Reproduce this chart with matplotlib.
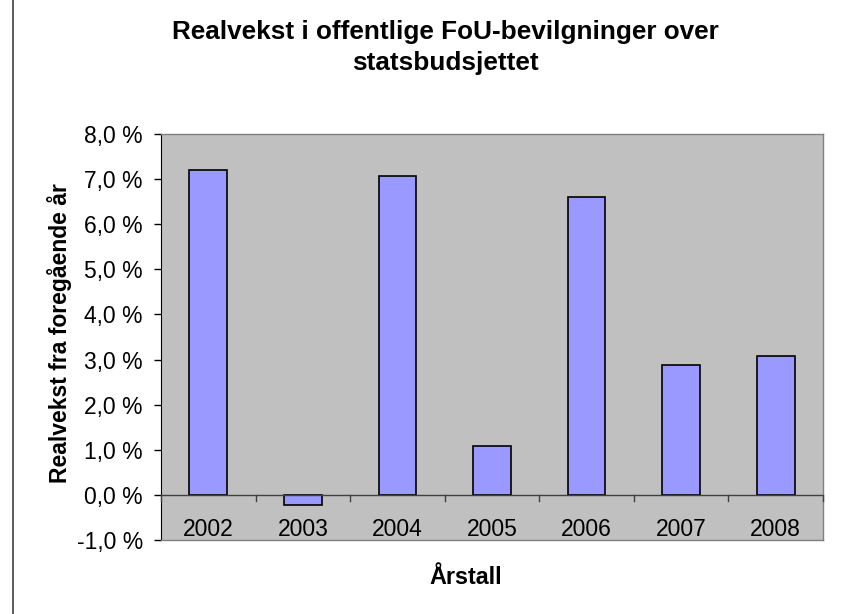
import numpy as np
import matplotlib.pyplot as plt
from matplotlib.ticker import FuncFormatter
from matplotlib.lines import Line2D

# Data
years = ['2002', '2003', '2004', '2005', '2006', '2007', '2008']
growth = [7.2, -0.23, 7.08, 1.08, 6.6, 2.87, 3.08]

plt.rcParams['font.family'] = ['Liberation Sans', 'DejaVu Sans']

W, H = 852, 614
fig = plt.figure(figsize=(W / 100, H / 100), dpi=100)
ax = fig.add_axes([161 / W, 1 - 540 / H, (823 - 161) / W, (540 - 134) / H])
ax.set_facecolor('#C0C0C0')

x = np.arange(len(years))
ax.bar(x, growth, width=0.4, color='#9999FF', edgecolor='black', linewidth=1.2, zorder=3)

ax.set_xlim(-0.5, len(years) - 0.5)
ax.set_ylim(-1, 8)
ax.set_yticks(np.arange(-1, 8.1, 1))
ax.yaxis.set_major_formatter(FuncFormatter(lambda v, p: f'{v:.1f} %'.replace('.', ',')))
ax.tick_params(axis='y', labelsize=16.5, length=5, width=1, color='black', pad=8)

# category axis at zero
ax.axhline(0, color='#404040', linewidth=1, zorder=4)
ax.set_xticks([])
for b in np.arange(-0.5, len(years), 1):
    ax.plot([b, b], [0, -0.13], color='#404040', linewidth=1, zorder=4, clip_on=False)
for xi, lab in zip(x, years):
    ax.text(xi, -0.76, lab, ha='center', va='center', fontsize=16.5)

for side in ['top', 'right', 'bottom']:
    ax.spines[side].set_color('#808080')
    ax.spines[side].set_linewidth(1)
ax.spines['left'].set_color('black')

fig.text(445 / W, 1 - 32 / H, 'Realvekst i offentlige FoU-bevilgninger over',
         ha='center', va='center', fontsize=18.8, fontweight='bold')
fig.text(445 / W, 1 - 63 / H, 'statsbudsjettet',
         ha='center', va='center', fontsize=18.8, fontweight='bold')
fig.text(60 / W, 1 - 333 / H, 'Realvekst fra foregående år', rotation=90,
         ha='center', va='center', fontsize=16.5, fontweight='bold')
fig.text(466 / W, 1 - 577 / H, 'Årstall', ha='center', va='center',
         fontsize=16.8, fontweight='bold')

# left border of the chart area
fig.add_artist(Line2D([13 / W, 13 / W], [0, 1], color='#404040', linewidth=1.2))

fig.savefig('out.png', dpi=100)
